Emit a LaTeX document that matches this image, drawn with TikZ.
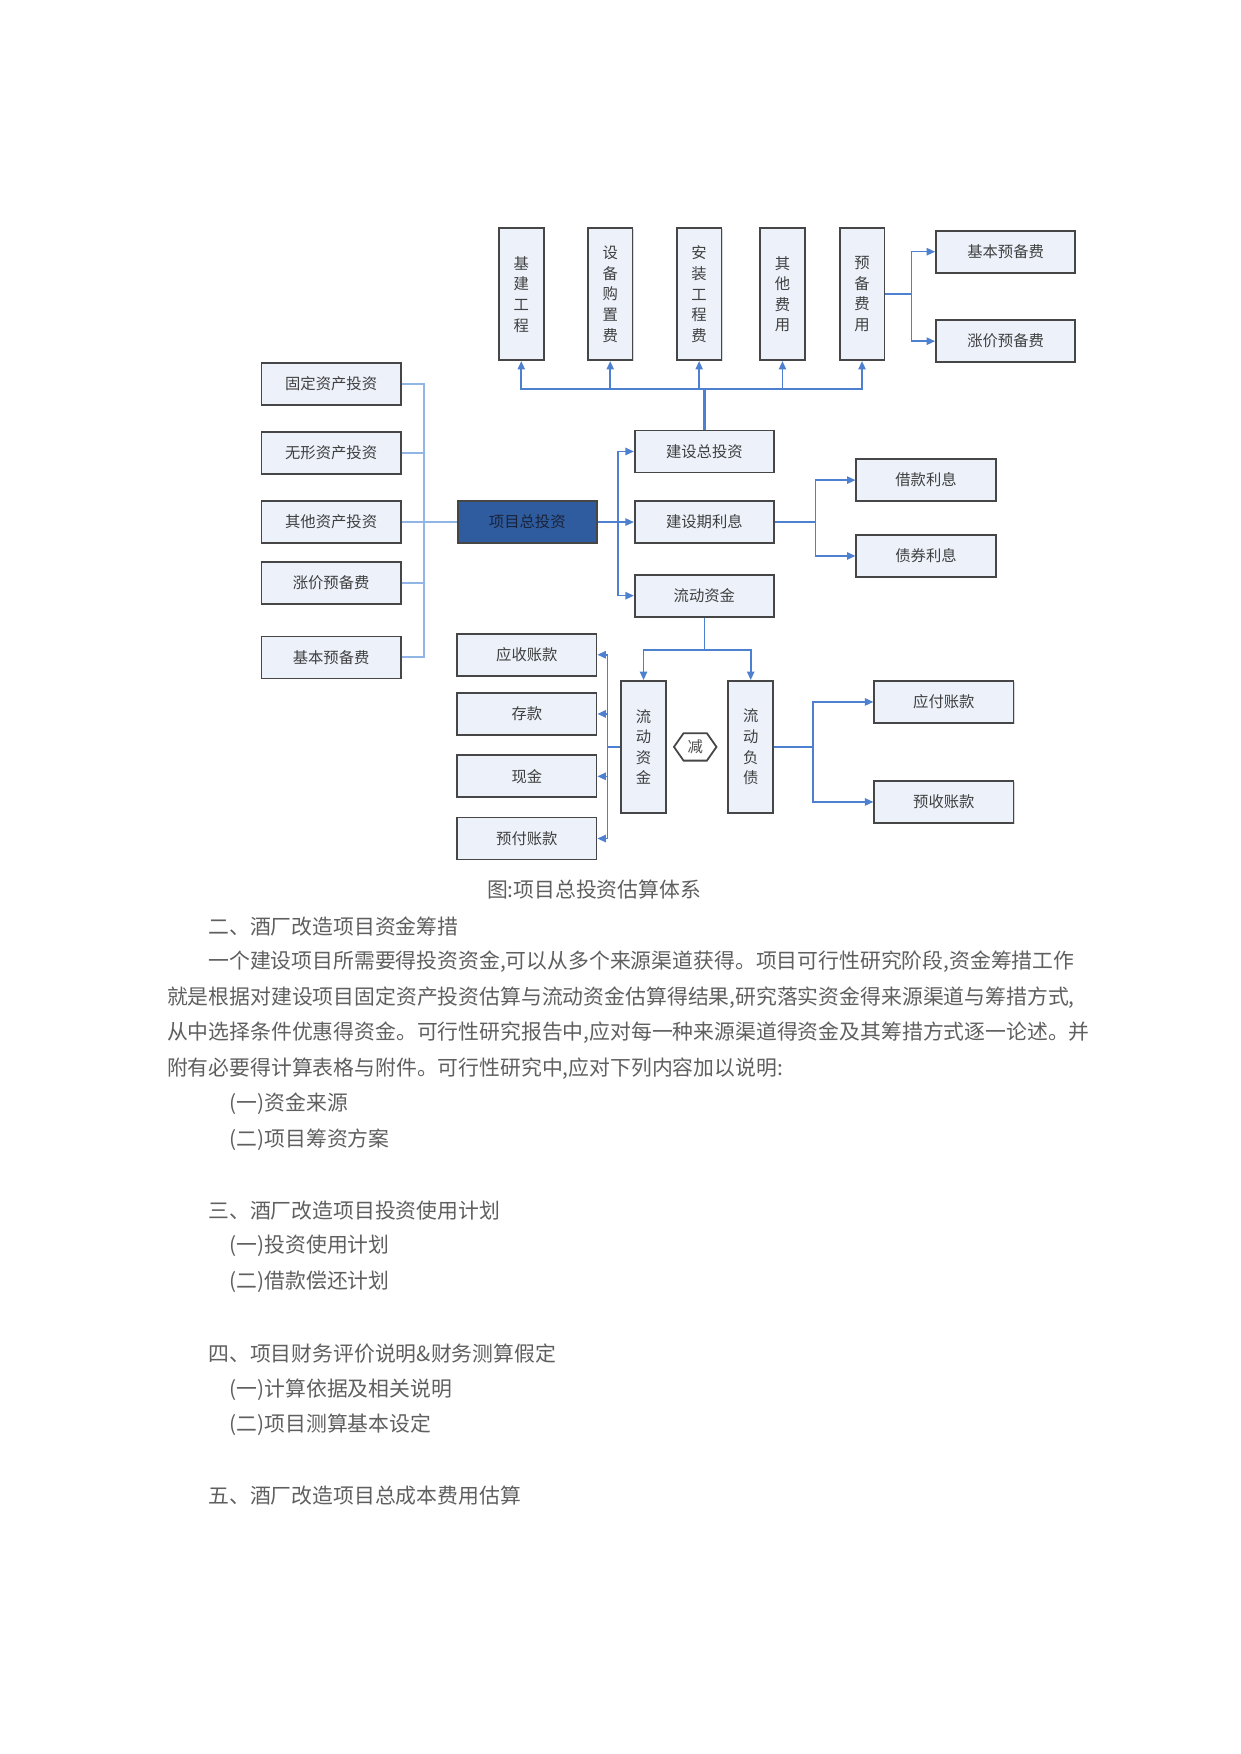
\documentclass[tikz,border=0pt]{standalone}
\usepackage{fontspec}
\setmainfont{Noto Sans CJK SC}
\usetikzlibrary{arrows.meta,shapes.symbols,shadows}
\definecolor{boxfill}{RGB}{236,241,250}
\definecolor{boxline}{RGB}{70,70,70}
\definecolor{mainfill}{RGB}{47,92,158}
\definecolor{maintext}{RGB}{25,35,60}
\definecolor{linkblue}{RGB}{78,128,208}
\definecolor{lightblue}{RGB}{145,182,230}
\definecolor{bodygray}{RGB}{95,95,95}

\begin{document}
\begin{tikzpicture}[x=0.2mm, y=-0.2mm,
  box/.style={rectangle, draw=boxline, line width=0.9pt, fill=boxfill, minimum width=24.9mm, minimum height=7.5mm, inner sep=0pt, align=center, text=black!75, font=\fontsize{7.8}{10.5}\selectfont, drop shadow={shadow xshift=0.5pt, shadow yshift=-0.5pt, opacity=0.3}},
  vbox/.style={box, minimum width=8mm, minimum height=23.6mm},
  line/.style={linkblue, line width=0.8pt},
  arrow/.style={line, -{Triangle[length=1.5mm, width=1.3mm]}},
  lightline/.style={lightblue, line width=1pt},
  body/.style={anchor=west, inner sep=0pt, text=bodygray, font=\fontsize{10.6}{12}\selectfont}
]
  \useasboundingbox (0,0) rectangle (1109,1568);

  \node[vbox] (jjgc) at (466,263) {基\\建\\工\\程};
  \node[vbox] (sbgz) at (545.5,263) {设\\备\\购\\置\\费};
  \node[vbox] (azgc) at (625,263) {安\\装\\工\\程\\费};
  \node[vbox] (qtfy) at (699.5,263) {其\\他\\费\\用};
  \node[vbox] (ybfy) at (770.6,263) {预\\备\\费\\用};
  \node[box] (jbybf) at (899,225) {基本预备费};
  \node[box] (zjybf) at (899,305) {涨价预备费};

  \node[box] (gdzc) at (296,343) {固定资产投资};
  \node[box] (wxzc) at (296,405) {无形资产投资};
  \node[box] (qtzc) at (296,466.7) {其他资产投资};
  \node[box] (zjyb) at (296,521.3) {涨价预备费};
  \node[box] (jbyb) at (296,587.7) {基本预备费};
  \node[box, fill=mainfill, text=maintext] (xmztz) at (471.4,466.7) {项目总投资};

  \node[box] (jsztz) at (629.7,403.6) {建设总投资};
  \node[box] (jsqlx) at (629.7,466.7) {建设期利息};
  \node[box] (ldzj) at (629.7,532.5) {流动资金};
  \node[box] (jklx) at (827.8,429.2) {借款利息};
  \node[box] (zqlx) at (827.8,497) {债券利息};

  \node[box] (yszk) at (471,585.3) {应收账款};
  \node[box] (ck) at (471,638.2) {存款};
  \node[box] (xj) at (471,694) {现金};
  \node[box] (yfzk) at (471,749.6) {预付账款};
  \node[vbox] (ldzcv) at (575.3,667.7) {流\\动\\资\\金};
  \node[vbox] (ldfz) at (671.1,667.7) {流\\动\\负\\债};
  \node[signal, signal to=west and east, signal pointer angle=110, draw=boxline, line width=0.9pt, fill=white, minimum width=7.6mm, minimum height=4.9mm, inner sep=0pt, text=black!70, font=\fontsize{7.8}{9}\selectfont] (jian) at (621.5,667.7) {减};
  \node[box] (yfuzk) at (843.8,627.5) {应付账款};
  \node[box] (yshzk) at (843.8,716.9) {预收账款};

  \coordinate (topbus) at (629.7,348);
  \coordinate (ybjoint) at (814.7,263);
  \coordinate (leftbus) at (379,466.7);
  \coordinate (rightbus) at (552.6,466.7);
  \coordinate (lxjoint) at (729.2,466.7);
  \coordinate (ldjoint) at (629.7,580.9);
  \coordinate (zcjoint) at (543,667.7);
  \coordinate (fzjoint) at (726.6,667.7);

  \draw[line, line width=1.3pt] (jsztz.north) -- (topbus);
  \foreach \n in {jjgc,sbgz,azgc,qtfy,ybfy} \draw[arrow] (topbus) -| (\n.south);
  \draw[arrow] (ybfy.east) -- (ybjoint) |- (jbybf.west);
  \draw[arrow] (ybjoint) |- (zjybf.west);
  \foreach \n in {gdzc,wxzc,qtzc,zjyb,jbyb} \draw[lightline] (\n.east) -| (leftbus);
  \draw[lightline] (leftbus) -- (xmztz.west);
  \draw[line] (xmztz.east) -- (rightbus);
  \foreach \n in {jsztz,jsqlx,ldzj} \draw[arrow] (rightbus) |- (\n.west);
  \draw[line] (jsqlx.east) -- (lxjoint);
  \foreach \n in {jklx,zqlx} \draw[arrow] (lxjoint) |- (\n.west);
  \draw[line] (ldzj.south) -- (ldjoint);
  \foreach \n in {ldzcv,ldfz} \draw[arrow] (ldjoint) -| (\n.north);
  \draw[line] (ldzcv.west) -- (zcjoint);
  \foreach \n in {yszk,ck,xj,yfzk} \draw[arrow] (zcjoint) |- (\n.east);
  \draw[line] (ldfz.east) -- (fzjoint);
  \foreach \n in {yfuzk,yshzk} \draw[arrow] (fzjoint) |- (\n.west);

  \node[body] (cap) at (435,795) {图:项目总投资估算体系};
  \node[body] (sec2) at (186,828) {二、酒厂改造项目资金筹措};
  \node[body] (para1) at (186,860) {一个建设项目所需要得投资资金,可以从多个来源渠道获得。项目可行性研究阶段,资金筹措工作};
  \node[body] (para2) at (149,892) {就是根据对建设项目固定资产投资估算与流动资金估算得结果,研究落实资金得来源渠道与筹措方式,};
  \node[body] (para3) at (149,923) {从中选择条件优惠得资金。可行性研究报告中,应对每一种来源渠道得资金及其筹措方式逐一论述。并};
  \node[body] (para4) at (149,955) {附有必要得计算表格与附件。可行性研究中,应对下列内容加以说明:};
  \node[body] (s2a) at (205,987) {(一)资金来源};
  \node[body] (s2b) at (205,1019) {(二)项目筹资方案};
  \node[body] (sec3) at (186,1082) {三、酒厂改造项目投资使用计划};
  \node[body] (s3a) at (205,1114) {(一)投资使用计划};
  \node[body] (s3b) at (205,1146) {(二)借款偿还计划};
  \node[body] (sec4) at (186,1210) {四、项目财务评价说明\&财务测算假定};
  \node[body] (s4a) at (205,1242) {(一)计算依据及相关说明};
  \node[body] (s4b) at (205,1274) {(二)项目测算基本设定};
  \node[body] (sec5) at (186,1337) {五、酒厂改造项目总成本费用估算};
\end{tikzpicture}
\end{document}
